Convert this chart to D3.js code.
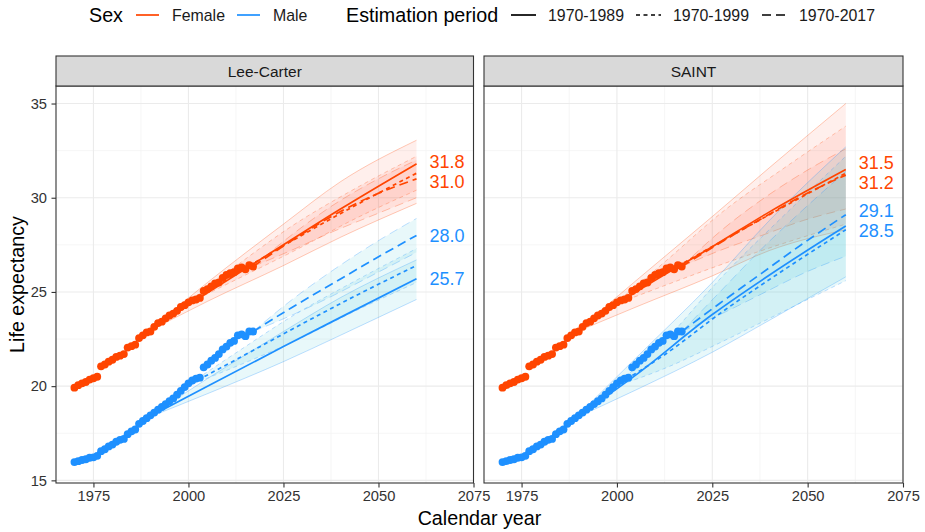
<!DOCTYPE html>
<html>
<head>
<meta charset="utf-8">
<script src="https://cdn.jsdelivr.net/npm/d3@7"></script>
<style>
  body { margin: 0; background: #fff; }
  svg { display: block; font-family: "Liberation Sans", Arial, sans-serif; }
</style>
</head>
<body>
<svg id="chart" width="925" height="532"></svg>
<script>
// Données observées (1970-2017)

const obsYears = d3.range(1970, 2018);
const femaleObs = [19.92, 20.05, 20.15, 20.22, 20.35, 20.42, 20.5, 21.05, 21.15, 21.3, 21.4, 21.55,
  21.62, 21.7, 22.05, 22.12, 22.2, 22.55, 22.7, 22.85, 22.9, 23.15, 23.35, 23.42, 23.6, 23.75,
  23.85, 24.0, 24.2, 24.3, 24.45, 24.55, 24.6, 24.68, 25.05, 25.15, 25.3, 25.45, 25.5, 25.75,
  25.9, 26.0, 26.05, 26.25, 26.3, 26.2, 26.42, 26.35];
const maleObs = [15.97, 16.02, 16.08, 16.12, 16.2, 16.22, 16.3, 16.55, 16.65, 16.8, 16.9, 17.05,
  17.15, 17.2, 17.45, 17.6, 17.7, 18.0, 18.15, 18.3, 18.45, 18.6, 18.75, 18.9, 19.05, 19.2,
  19.35, 19.55, 19.75, 19.95, 20.15, 20.3, 20.4, 20.45, 21.0, 21.15, 21.35, 21.5, 21.7, 21.95,
  22.1, 22.3, 22.4, 22.7, 22.75, 22.65, 22.9, 22.9];

const methods = ["Lee-Carter", "SAINT"];
const sexes = ["Female", "Male"];
const periods = ["1970-1989", "1970-1999", "1970-2017"];
const labelledPeriods = [0, 2];

// Années d'ancrage des projections, une liste par période
const anchorYears = [
  [1989, 2005, 2025, 2040, 2060],
  [1999, 2012, 2028, 2044, 2060],
  [2017, 2027, 2038, 2049, 2060],
];

// Lee-Carter : moyenne, borne basse, borne haute
const lcFemaleMean = [[22.85, 24.95, 27.5, 29.4, 31.8], [24.3, 25.9, 27.8, 29.6, 31.3], [26.35, 27.7, 29.05, 30.15, 31.0]];
const lcFemaleLow = [[22.85, 24.5, 26.4, 27.9, 29.7], [24.3, 25.6, 27.2, 28.9, 30.4], [26.35, 27.2, 28.2, 29.1, 30.0]];
const lcFemaleHigh = [[22.85, 25.5, 28.6, 30.85, 33.05], [24.3, 26.3, 28.6, 30.5, 32.2], [26.35, 28.0, 29.6, 30.9, 32.0]];
const lcMaleMean = [[18.3, 20.0, 22.1, 23.65, 25.7], [19.95, 21.35, 23.1, 24.8, 26.4], [22.9, 24.15, 25.45, 26.75, 28.0]];
const lcMaleLow = [[18.3, 19.6, 21.3, 22.7, 24.6], [19.95, 21.0, 22.4, 24.0, 25.5], [22.9, 23.75, 24.8, 25.95, 27.1]];
const lcMaleHigh = [[18.3, 20.4, 22.9, 24.7, 26.7], [19.95, 21.7, 23.8, 25.6, 27.3], [22.9, 24.55, 26.15, 27.6, 28.9]];

// SAINT
const saintFemaleMean = [[22.85, 25.0, 27.4, 29.25, 31.5], [24.3, 25.9, 27.75, 29.55, 31.3], [26.35, 27.6, 28.9, 30.15, 31.2]];
const saintFemaleLow = [[22.85, 24.2, 25.85, 27.2, 28.3], [24.3, 25.3, 26.5, 27.6, 28.6], [26.35, 27.2, 28.0, 28.8, 29.4]];
const saintFemaleHigh = [[22.85, 25.6, 29.0, 31.6, 35.0], [24.3, 26.5, 29.3, 31.6, 33.8], [26.35, 28.2, 29.9, 31.35, 32.6]];
const saintMaleMean = [[18.3, 20.6, 23.8, 25.9, 28.5], [19.95, 21.6, 24.0, 26.2, 28.3], [22.9, 24.4, 26.0, 27.6, 29.1]];
const saintMaleLow = [[18.3, 19.8, 21.8, 23.5, 25.8], [19.95, 20.9, 22.4, 24.0, 25.6], [22.9, 23.8, 24.9, 26.0, 26.9]];
const saintMaleHigh = [[18.3, 21.5, 25.5, 28.8, 32.7], [19.95, 22.3, 25.9, 29.1, 32.2], [22.9, 25.0, 27.3, 29.4, 31.4]];

const xTicks = [1975, 2000, 2025, 2050, 2075];
const yTicks = [15, 20, 25, 30, 35];

// Styles
const sexColor = { Female: "#FF4500", Male: "#1E90FF" };
const bandFill = { Female: "#FF6F50", Male: "#2CC3D6" };
const periodDash = [null, "4,3.5", "9,5"];

const forecasts = {
  "Lee-Carter": {
    Female: { mean: lcFemaleMean, low: lcFemaleLow, high: lcFemaleHigh },
    Male: { mean: lcMaleMean, low: lcMaleLow, high: lcMaleHigh },
  },
  SAINT: {
    Female: { mean: saintFemaleMean, low: saintFemaleLow, high: saintFemaleHigh },
    Male: { mean: saintMaleMean, low: saintMaleLow, high: saintMaleHigh },
  },
};
const observed = { Female: femaleObs, Male: maleObs };

// Mise en page

const svg = d3.select("#chart");
const stripTop = 56, panelTop = 86, panelBottom = 483;
const panelX = [[56, 473.5], [484, 903]];
const fontFamily = '"Liberation Sans", Arial, sans-serif';

const y = d3.scaleLinear().domain([14.86, 35.93]).range([panelBottom, panelTop]);
const mid = (arr) => d3.pairs(arr).map(([a, b]) => (a + b) / 2);

methods.forEach((method, mi) => {
  const [x0, x1] = panelX[mi];
  const x = d3.scaleLinear().domain([1965.15, 2075]).range([x0, x1]);
  const g = svg.append("g");

  g.append("clipPath").attr("id", "clip" + mi)
    .append("rect").attr("x", x0).attr("y", panelTop).attr("width", x1 - x0).attr("height", panelBottom - panelTop);

  g.append("rect").attr("x", x0).attr("y", panelTop).attr("width", x1 - x0)
    .attr("height", panelBottom - panelTop).attr("fill", "#fff");

  // Grille
  const grid = g.append("g");
  grid.selectAll(".vmin").data(mid(xTicks)).enter().append("line")
    .attr("x1", (d) => x(d)).attr("x2", (d) => x(d)).attr("y1", panelTop).attr("y2", panelBottom)
    .attr("stroke", "#F2F2F2").attr("stroke-width", 0.7);
  grid.selectAll(".hmin").data(mid(yTicks)).enter().append("line")
    .attr("x1", x0).attr("x2", x1).attr("y1", (d) => y(d)).attr("y2", (d) => y(d))
    .attr("stroke", "#F2F2F2").attr("stroke-width", 0.7);
  grid.selectAll(".vmaj").data(xTicks).enter().append("line")
    .attr("x1", (d) => x(d)).attr("x2", (d) => x(d)).attr("y1", panelTop).attr("y2", panelBottom)
    .attr("stroke", "#EBEBEB").attr("stroke-width", 1.1);
  grid.selectAll(".hmaj").data(yTicks).enter().append("line")
    .attr("x1", x0).attr("x2", x1).attr("y1", (d) => y(d)).attr("y2", (d) => y(d))
    .attr("stroke", "#EBEBEB").attr("stroke-width", 1.1);

  const plot = g.append("g").attr("clip-path", "url(#clip" + mi + ")");

  const area = d3.area().curve(d3.curveMonotoneX)
    .x((d) => x(d.year)).y0((d) => y(d.low)).y1((d) => y(d.high));
  const line = d3.line().curve(d3.curveMonotoneX)
    .x((d) => x(d.year)).y((d) => y(d.v));

  // Intervalles de prévision
  sexes.forEach((sex) => {
    const f = forecasts[method][sex];
    periods.forEach((p, pi) => {
      const pts = anchorYears[pi].map((yr, k) => ({ year: yr, low: f.low[pi][k], high: f.high[pi][k] }));
      plot.append("path").datum(pts).attr("d", area)
        .attr("fill", bandFill[sex]).attr("fill-opacity", 0.11);
      ["low", "high"].forEach((edge) => {
        plot.append("path")
          .datum(anchorYears[pi].map((yr, k) => ({ year: yr, v: f[edge][pi][k] })))
          .attr("d", line).attr("fill", "none")
          .attr("stroke", sexColor[sex]).attr("stroke-opacity", 0.28).attr("stroke-width", 1)
          .attr("stroke-dasharray", periodDash[pi]);
      });
    });
  });

  // Points observés
  sexes.forEach((sex) => {
    plot.selectAll(null).data(observed[sex]).enter().append("circle")
      .attr("cx", (d, i) => x(obsYears[i])).attr("cy", (d) => y(d)).attr("r", 3.9)
      .attr("fill", sexColor[sex]);
  });

  // Lignes centrales
  sexes.forEach((sex) => {
    const f = forecasts[method][sex];
    periods.forEach((p, pi) => {
      plot.append("path")
        .datum(anchorYears[pi].map((yr, k) => ({ year: yr, v: f.mean[pi][k] })))
        .attr("d", line).attr("fill", "none")
        .attr("stroke", sexColor[sex]).attr("stroke-width", 1.7)
        .attr("stroke-dasharray", periodDash[pi]);
    });
  });

  // Étiquettes des valeurs en 2060 (avec évitement simple)
  const labels = [];
  sexes.forEach((sex) => {
    labelledPeriods.forEach((pi) => {
      const v = forecasts[method][sex].mean[pi].slice(-1)[0];
      labels.push({ sex, v, py: y(v) });
    });
  });
  labels.sort((a, b) => a.py - b.py);
  const minGap = 20.5;
  for (let it = 0; it < 30; it++) {
    for (let i = 1; i < labels.length; i++) {
      const gap = labels[i].py - labels[i - 1].py;
      if (gap < minGap) {
        const push = (minGap - gap) / 2;
        labels[i - 1].py -= push;
        labels[i].py += push;
      }
    }
  }
  g.selectAll(".endlab").data(labels).enter().append("text")
    .attr("x", x(2063.4)).attr("y", (d) => d.py).attr("dy", "0.36em")
    .attr("fill", (d) => sexColor[d.sex]).style("font-size", "18px")
    .text((d) => d.v.toFixed(1));

  // Cadre du panneau
  g.append("rect").attr("x", x0).attr("y", panelTop).attr("width", x1 - x0)
    .attr("height", panelBottom - panelTop).attr("fill", "none")
    .attr("stroke", "#333").attr("stroke-width", 1.1);

  // Bandeau
  g.append("rect").attr("x", x0).attr("y", stripTop).attr("width", x1 - x0)
    .attr("height", panelTop - stripTop).attr("fill", "#D9D9D9")
    .attr("stroke", "#333").attr("stroke-width", 1.1);
  g.append("text").attr("x", (x0 + x1) / 2).attr("y", (stripTop + panelTop) / 2)
    .attr("dy", "0.36em").attr("text-anchor", "middle")
    .style("font-size", "15.5px").attr("fill", "#1a1a1a").text(method);

  // Axes
  const xAxis = g.append("g").attr("transform", "translate(0," + panelBottom + ")")
    .call(d3.axisBottom(x).tickValues(xTicks).tickSize(4.5).tickPadding(3).tickFormat(d3.format("d")));
  xAxis.select(".domain").remove();
  xAxis.selectAll(".tick line").attr("stroke", "#333").attr("stroke-width", 1.1);
  xAxis.selectAll(".tick text").attr("fill", "#333").style("font-size", "14.7px").style("font-family", fontFamily);

  if (mi === 0) {
    const yAxis = g.append("g").attr("transform", "translate(" + x0 + ",0)")
      .call(d3.axisLeft(y).tickValues(yTicks).tickSize(4.5).tickPadding(4.5));
    yAxis.select(".domain").remove();
    yAxis.selectAll(".tick line").attr("stroke", "#333").attr("stroke-width", 1.1);
    yAxis.selectAll(".tick text").attr("fill", "#333").style("font-size", "14.7px").style("font-family", fontFamily);
  }
});

// Titres des axes
svg.append("text").attr("x", (panelX[0][0] + panelX[1][1]) / 2).attr("y", 525)
  .attr("text-anchor", "middle").style("font-size", "19.7px").attr("fill", "#000").text("Calendar year");
svg.append("text").attr("transform", "translate(24," + (panelTop + panelBottom) / 2 + ") rotate(-90)")
  .attr("text-anchor", "middle").style("font-size", "19.7px").attr("fill", "#000").text("Life expectancy");

// Légende

const legend = svg.append("g").attr("transform", "translate(0,15)");
legend.append("text").attr("x", 89).attr("dy", "0.36em").style("font-size", "19.7px").text("Sex");
const sexLegend = [
  { sex: "Female", x: 136, tx: 172 },
  { sex: "Male", x: 237, tx: 273 },
];
sexLegend.forEach((d) => {
  legend.append("line").attr("x1", d.x).attr("x2", d.x + 23).attr("stroke", sexColor[d.sex]).attr("stroke-width", 1.7);
  legend.append("text").attr("x", d.tx).attr("dy", "0.36em").style("font-size", "15.9px").attr("fill", "#1a1a1a").text(d.sex);
});
legend.append("text").attr("x", 346).attr("dy", "0.36em").style("font-size", "19.7px").text("Estimation period");
const periodLegendX = [511, 636, 762];
periods.forEach((p, pi) => {
  const lx = periodLegendX[pi];
  legend.append("line").attr("x1", lx).attr("x2", lx + 25).attr("stroke", "#000")
    .attr("stroke-width", 1.7).attr("stroke-dasharray", periodDash[pi]);
  legend.append("text").attr("x", lx + 37).attr("dy", "0.36em").style("font-size", "15.9px")
    .attr("fill", "#1a1a1a").text(p);
});
</script>
</body>
</html>
